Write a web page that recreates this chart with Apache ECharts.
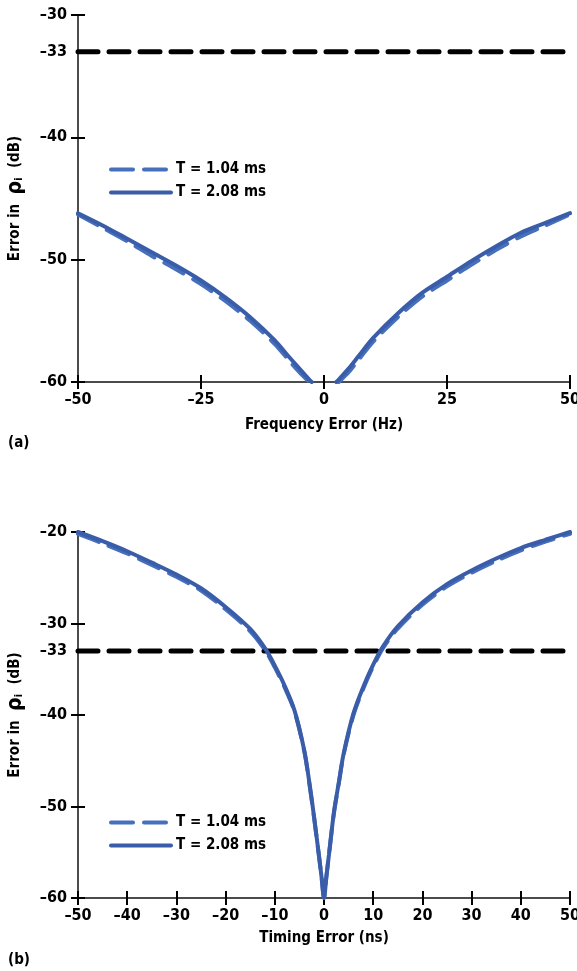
<!DOCTYPE html>
<html>
<head>
<meta charset="utf-8">
<title>Error in rho vs frequency and timing error</title>
<script src="https://cdn.jsdelivr.net/npm/echarts@6.0.0/dist/echarts.min.js"></script>
<style>
  html, body { margin: 0; padding: 0; background: #fff; }
  #chart { width: 577px; height: 971px; }
</style>
</head>
<body>
<div id="chart"></div>
<script>
// (a) frequency error, Hz
const freqHz = [-50, -45, -40, -35, -30, -25, -20, -15, -10, -7, -5, -4, -3, -2.5, 0, 2.5, 3, 4, 5, 7, 10, 15, 20, 25, 30, 35, 40, 45, 50]
const freqT208 = [-46.2, -47.2, -48.3, -49.4, -50.5, -51.7, -53.1, -54.7, -56.6, -58.0, -58.9, -59.35, -59.8, -60, null, -60, -59.8, -59.35, -58.9, -57.9, -56.4, -54.4, -52.7, -51.4, -50.1, -48.9, -47.8, -47.0, -46.2]
const freqT104 = [-46.3, -47.4, -48.5, -49.7, -50.8, -52.0, -53.4, -55.0, -56.9, -58.3, -59.2, -59.6, -60, null, null, null, -60, -59.6, -59.2, -58.2, -56.7, -54.7, -53.0, -51.7, -50.4, -49.2, -48.1, -47.2, -46.3]

// (b) timing error, ns
const timeNs = [-50, -45, -40, -35, -30, -25, -20, -15, -12, -10, -8, -6, -4, -3, -2, -1, -0.5, 0, 0.5, 1, 2, 3, 4, 6, 8, 10, 12, 15, 20, 25, 30, 35, 40, 45, 50]
const timeT208 = [-20.0, -21.0, -22.1, -23.35, -24.65, -26.15, -28.2, -30.6, -32.7, -34.6, -36.8, -39.5, -43.9, -47.3, -51.2, -55.5, -57.7, -60, -57.6, -55.3, -50.7, -47.4, -44.2, -39.8, -36.9, -34.5, -32.5, -30.3, -27.7, -25.7, -24.2, -22.9, -21.75, -20.85, -20.0]
const timeT104 = [-20.2, -21.25, -22.35, -23.6, -24.9, -26.4, -28.45, -30.85, -32.9, -34.8, -37.0, -39.6, -44.0, -47.4, -51.3, -55.5, -57.7, -60, -57.6, -55.3, -50.8, -47.5, -44.3, -40.0, -37.1, -34.7, -32.7, -30.55, -27.95, -25.95, -24.45, -23.15, -22.0, -21.05, -20.2]

// -33 dB reference line
const limitX = [-50, 50]
const limitDb = [-33, -33]

const freqTicks = [-50, -25, 0, 25, 50]
const timeTicks = [-50, -40, -30, -20, -10, 0, 10, 20, 30, 40, 50]
const yTicksA = [-60, -50, -40, -30]
const yLabelsA = [-60, -50, -40, -33, -30]
const yTicksB = [-60, -50, -40, -30, -20]
const yLabelsB = [-60, -50, -40, -33, -30, -20]

const FONT = "'Liberation Sans Narrow', 'DejaVu Sans Condensed', 'Liberation Sans', sans-serif"
const DASH_BLUE = '#4670BC'
const SOLID_BLUE = '#3A5DAA'
const DASH = [22, 11]

const pairs = (xs, ys) => xs.map((x, i) => [x, ys[i] == null ? '-' : ys[i]])
const minus = (v) => String(v).replace('-', '\u2013')

const labelStyle = {
  color: '#000',
  fontFamily: FONT,
  fontWeight: 'bold',
  fontSize: 16,
  formatter: minus,
}

const yName = 'Error in  {rho|ρ}{sub|i}  (dB)'
const yNameStyle = {
  color: '#000',
  fontFamily: FONT,
  fontWeight: 'bold',
  fontSize: 15,
  rich: {
    rho: { fontFamily: FONT, fontWeight: 'bold', fontSize: 21, color: '#000' },
    sub: { fontFamily: FONT, fontWeight: 'bold', fontSize: 11, color: '#000', padding: [0, 0, -8, 0] },
  },
}

const tickStyle = { color: '#000', width: 2 }
const axisLine = { show: true, onZero: false, lineStyle: { color: '#111', width: 1.5 } }
const noLine = { show: false, onZero: false }

const mainX = (grid, min, max, interval, ticks, name, gap) => ({
  type: 'value', gridIndex: grid, min, max, interval, position: 'bottom',
  axisLine,
  axisTick: { show: true, inside: false, length: 7, customValues: ticks, lineStyle: tickStyle },
  axisLabel: { ...labelStyle, margin: 10, customValues: ticks },
  splitLine: { show: false },
  name, nameLocation: 'middle', nameGap: gap,
  nameTextStyle: { color: '#000', fontFamily: FONT, fontWeight: 'bold', fontSize: 15 },
})
const innerX = (grid, min, max, ticks) => ({
  type: 'value', gridIndex: grid, min, max, position: 'bottom',
  axisLine: noLine,
  axisTick: { show: true, inside: true, length: 7, customValues: ticks, lineStyle: tickStyle },
  axisLabel: { show: false },
  splitLine: { show: false },
})
const mainY = (grid, min, max, ticks, labels) => ({
  type: 'value', gridIndex: grid, min, max, position: 'left',
  axisLine,
  axisTick: { show: true, inside: false, length: 7, customValues: ticks, lineStyle: tickStyle },
  axisLabel: { ...labelStyle, margin: 11, customValues: labels },
  splitLine: { show: false },
  name: yName, nameLocation: 'middle', nameGap: 52, nameTextStyle: yNameStyle,
})
const innerY = (grid, min, max, ticks) => ({
  type: 'value', gridIndex: grid, min, max, position: 'left',
  axisLine: noLine,
  axisTick: { show: true, inside: true, length: 7, customValues: ticks, lineStyle: tickStyle },
  axisLabel: { show: false },
  splitLine: { show: false },
})

const curve = (name, xi, yi, data, color, dashed, z) => ({
  name, type: 'line', xAxisIndex: xi, yAxisIndex: yi,
  data, showSymbol: false, symbol: 'none', smooth: 0.3, connectNulls: false,
  lineStyle: { color, width: 4, type: dashed ? DASH : 'solid', cap: 'round' },
  itemStyle: { color },
  z,
})
const limit = (xi, yi) => ({
  name: 'limit', type: 'line', xAxisIndex: xi, yAxisIndex: yi,
  data: pairs(limitX, limitDb), showSymbol: false, symbol: 'none', silent: true,
  lineStyle: { color: '#000', width: 5, type: [20, 11], cap: 'round' },
  z: 1,
})
const legend = (top) => ({
  orient: 'vertical', left: 104, top,
  itemWidth: 60, itemHeight: 14, itemGap: 8,
  itemStyle: { opacity: 0, borderWidth: 0 },
  data: [
    { name: 'T = 1.04 ms', lineStyle: { color: DASH_BLUE, width: 4, type: DASH, cap: 'round' } },
    { name: 'T = 2.08 ms', lineStyle: { color: SOLID_BLUE, width: 4, type: 'solid', cap: 'round' } },
  ],
  textStyle: { color: '#000', fontFamily: FONT, fontWeight: 'bold', fontSize: 15 },
})

const chart = echarts.init(document.getElementById('chart'), null, { renderer: 'canvas' })

chart.setOption({
  animation: false,
  backgroundColor: '#fff',
  title: [
    { text: '(a)', left: 3, top: 431, textStyle: { color: '#000', fontFamily: FONT, fontWeight: 'bold', fontSize: 15 } },
    { text: '(b)', left: 3, top: 948, textStyle: { color: '#000', fontFamily: FONT, fontWeight: 'bold', fontSize: 15 } },
  ],
  legend: [legend(157), legend(810)],
  grid: [
    { left: 78, right: 7, top: 15, height: 367, outerBoundsMode: 'none' },
    { left: 78, right: 7, top: 532, height: 366, outerBoundsMode: 'none' },
  ],
  xAxis: [
    mainX(0, -50, 50, 25, freqTicks, 'Frequency Error (Hz)', 36),
    innerX(0, -50, 50, freqTicks),
    mainX(1, -50, 50, 10, timeTicks, 'Timing Error (ns)', 33),
    innerX(1, -50, 50, timeTicks),
  ],
  yAxis: [
    mainY(0, -60, -30, yTicksA, yLabelsA),
    innerY(0, -60, -30, yTicksA),
    mainY(1, -60, -20, yTicksB, yLabelsB),
    innerY(1, -60, -20, yTicksB),
  ],
  series: [
    limit(0, 0),
    curve('T = 1.04 ms', 0, 0, pairs(freqHz, freqT104), DASH_BLUE, true, 2),
    curve('T = 2.08 ms', 0, 0, pairs(freqHz, freqT208), SOLID_BLUE, false, 3),
    limit(2, 2),
    curve('T = 1.04 ms', 2, 2, pairs(timeNs, timeT104), DASH_BLUE, true, 2),
    curve('T = 2.08 ms', 2, 2, pairs(timeNs, timeT208), SOLID_BLUE, false, 3),
  ],
})
</script>
</body>
</html>
